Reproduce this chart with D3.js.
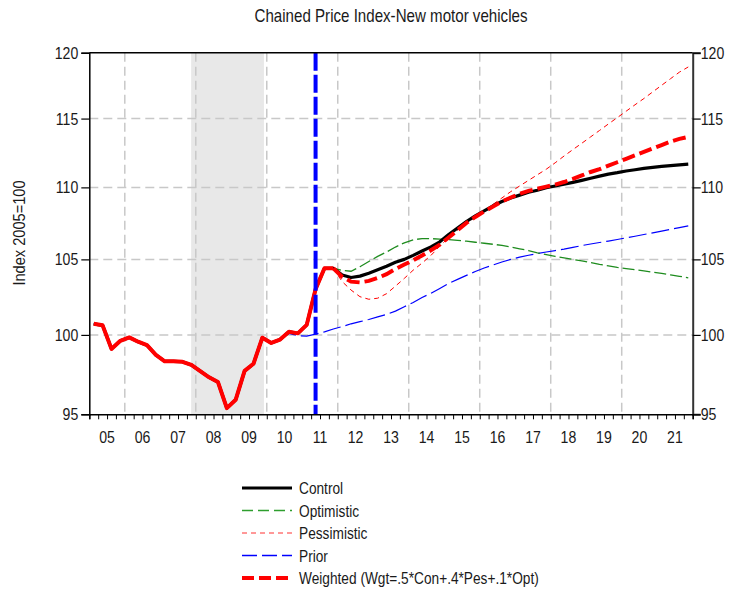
<!DOCTYPE html>
<html><head><meta charset="utf-8">
<script src="https://cdn.jsdelivr.net/npm/d3@7"></script>
<style>
body{margin:0;background:#fff;}
svg{display:block;font-family:"Liberation Sans Narrow","Arial Narrow","Liberation Sans",Arial,sans-serif;}
</style></head>
<body><svg id="c" width="731" height="594"></svg>
<script>
// ---------- data (quarterly, values) ----------
const histStart = 2005;            // 2005Q1
const history = [100.72,100.62,99.1,99.62, 99.84,99.56,99.34,98.72, 98.31,98.31,98.28,98.08,
  97.69,97.3,97.0,95.38, 95.9,97.7,98.15,99.82, 99.48,99.7,100.2,100.1, 100.65,103.0,104.4,104.4];
const fcStart = 2012;              // 2012Q1
const control = [103.95,103.78,103.87,104.07, 104.3,104.54,104.8,105.0, 105.27,105.57,105.85,106.2,
  106.7,107.15,107.6,108.0, 108.35,108.7,109.0,109.25, 109.45,109.65,109.8,109.97,
  110.1,110.22,110.36,110.5, 110.65,110.8,110.95,111.05, 111.17,111.26,111.36,111.43, 111.5,111.56,111.61,111.66];
const optimistic = [104.25,104.2,104.5,104.86, 105.2,105.5,105.84,106.13, 106.34,106.42,106.42,106.38,
  106.35,106.3,106.24,106.17, 106.1,106.03,105.95,105.85, 105.72,105.6,105.45,105.32,
  105.2,105.1,105.0,104.9, 104.78,104.66,104.56,104.46, 104.38,104.3,104.22,104.13, 104.05,103.95,103.86,103.76];
const pessimistic = [103.5,102.94,102.5,102.33, 102.4,102.7,103.2,103.72, 104.27,104.75,105.27,105.9,
  106.5,107.0,107.5,107.9, 108.35,108.8,109.25,109.7, 110.1,110.5,110.9,111.3,
  111.76,112.25,112.72,113.18, 113.65,114.12,114.6,115.07, 115.55,116.03,116.5,117.0, 117.5,118.0,118.5,118.9];
const weighted = [103.82,103.5,103.45,103.55, 103.75,104.0,104.35,104.65, 104.94,105.27,105.62,106.0,
  106.5,107.0,107.5,107.92, 108.3,108.65,109.0,109.28, 109.55,109.75,109.9,110.05,
  110.2,110.38,110.6,110.85, 111.1,111.3,111.55,111.8, 112.05,112.3,112.55,112.8, 113.05,113.3,113.5,113.65];
const priorStart = 2010.5;         // 2010Q3
const prior = [100.1,99.95, 99.92,100.05,100.2,100.38, 100.54,100.72,100.86,101.0, 101.17,101.33,101.55,101.84,
  102.12,102.45,102.72,103.05, 103.38,103.65,103.92,104.18, 104.42,104.62,104.82,105.0,
  105.15,105.28,105.4,105.5, 105.6,105.7,105.82,105.94, 106.05,106.15,106.25,106.36,
  106.47,106.58,106.7,106.82, 106.94,107.06,107.18,107.3];
const recession = [2007.87, 2009.92];
const forecastMarker = 2011.375;   // 2011Q2
const yTicks = [95,100,105,110,115,120];
const yearLabels = ["05","06","07","08","09","10","11","12","13","14","15","16","17","18","19","20","21"];
const gridYears = [2006,2008,2010,2012,2014,2016,2018,2020];
const legendItems = ["Control","Optimistic","Pessimistic","Prior","Weighted (Wgt=.5*Con+.4*Pes+.1*Opt)"];

// ---------- layout ----------
const L=89.3, R=692.7, T=52.7, B=414.3;
const svg=d3.select("#c");
const x=d3.scaleLinear().domain([2005,2022]).range([L,R]);
const y=d3.scaleLog().domain([95,120]).range([B,T]);
const toPts=(start,arr)=>arr.map((v,i)=>({t:start+(i+0.5)/4,v}));
const histPts=toPts(histStart,history);
const lastHist=histPts[histPts.length-1];
const line=d3.line().x(d=>x(d.t)).y(d=>y(d.v));
const SX=0.83;
function txt(g,tx,ty,s,size,anchor,sx,rot){
  const tr=`translate(${tx},${ty})`+(rot?` rotate(${rot})`:"")+` scale(${sx},1)`;
  return g.append("text").attr("transform",tr).attr("text-anchor",anchor||"start")
    .attr("font-size",size).attr("fill","#1a1a1a").text(s);
}

// recession shading
svg.append("rect").attr("x",x(recession[0])).attr("y",T).attr("width",x(recession[1])-x(recession[0])).attr("height",B-T).attr("fill","#e8e8e8");

// grid
const grid=svg.append("g").attr("stroke","#c8c8c8").attr("stroke-width",1.5).attr("stroke-dasharray","9,5");
grid.selectAll("line.h").data(yTicks.filter(d=>d>95&&d<120)).join("line")
  .attr("x1",L).attr("x2",R).attr("y1",d=>y(d)).attr("y2",d=>y(d));
grid.selectAll("line.v").data(gridYears).join("line")
  .attr("y1",T).attr("y2",B).attr("x1",d=>x(d)).attr("x2",d=>x(d));

// series
const priorPts=[histPts[21]].concat(toPts(priorStart,prior));
const fc=(arr)=>[lastHist].concat(toPts(fcStart,arr));
svg.append("path").attr("d",line(histPts.slice(0,22))).attr("fill","none").attr("stroke","#0000ff").attr("stroke-width",1.2);
svg.append("path").attr("d",line(priorPts)).attr("fill","none").attr("stroke","#0000ff").attr("stroke-width",1.2).attr("stroke-dasharray","18,5");
svg.append("path").attr("d",line(histPts.concat(fc(optimistic).slice(1)))).attr("fill","none").attr("stroke","#1e8c1e").attr("stroke-width",1.3).attr("stroke-dasharray","12,4");
svg.append("path").attr("d",line(fc(pessimistic))).attr("fill","none").attr("stroke","#ff0000").attr("stroke-width",1).attr("stroke-dasharray","5,4");
svg.append("path").attr("d",line(histPts.concat(fc(control).slice(1)))).attr("fill","none").attr("stroke","#000").attr("stroke-width",3.2).attr("stroke-linejoin","round");
svg.append("path").attr("d",line(histPts)).attr("fill","none").attr("stroke","#ff0000").attr("stroke-width",4).attr("stroke-linejoin","round");
svg.append("path").attr("d",line(fc(weighted))).attr("fill","none").attr("stroke","#ff0000").attr("stroke-width",4).attr("stroke-dasharray","13,5");

// forecast marker
svg.append("line").attr("x1",x(forecastMarker)).attr("x2",x(forecastMarker)).attr("y1",T).attr("y2",B)
  .attr("stroke","#0000ff").attr("stroke-width",4).attr("stroke-dasharray","18,4");

// frame
svg.append("line").attr("x1",L).attr("x2",R).attr("y1",T).attr("y2",T).attr("stroke","#000").attr("stroke-width",1.5);

// axes
const yl=svg.append("g").attr("transform",`translate(${L},0)`).call(d3.axisLeft(y).tickValues(yTicks).tickFormat("").tickSize(8));
const yr=svg.append("g").attr("transform",`translate(${R},0)`).call(d3.axisRight(y).tickValues(yTicks).tickFormat("").tickSize(8));
[yl,yr].forEach(g=>{g.select(".domain").attr("stroke","#000").attr("stroke-width",1.5);
  g.selectAll(".tick line").attr("stroke","#000").attr("stroke-width",1.2);});
yr.select(".domain").attr("stroke","#333").attr("stroke-width",2);
const labs=svg.append("g");
yTicks.forEach(v=>{
  txt(labs,L-11,y(v)+6,String(v),17,"end",SX);
  txt(labs,R+8,y(v)+6,String(v),17,"start",SX);
});

const quarterTicks=d3.range(2005,2022.01,0.25);
const xb=svg.append("g").attr("transform",`translate(0,${B})`).call(d3.axisBottom(x).tickValues(quarterTicks).tickSize(5).tickFormat(""));
xb.select(".domain").attr("stroke","#000").attr("stroke-width",1.5);
xb.selectAll(".tick line").attr("stroke","#000");
yearLabels.forEach((d,i)=>txt(labs,x(2005+i+0.5),443,d,17,"middle",SX));

// titles
txt(svg,391,22,"Chained Price Index-New motor vehicles",18,"middle",0.84);
txt(svg,25,233,"Index 2005=100",17,"middle",0.86,-90);

// legend
const legStyles=[
  {c:"#000",w:3,d:null},
  {c:"#2e9e2e",w:1.5,d:"11,5"},
  {c:"#ff3030",w:1,d:"5,4"},
  {c:"#0000ff",w:1.3,d:"15,5"},
  {c:"#ff0000",w:4,d:"12,5"}];
const leg=svg.append("g");
legendItems.forEach((name,i)=>{
  const yy=488+i*22.5;
  const st=legStyles[i];
  leg.append("line").attr("x1",242).attr("x2",292).attr("y1",yy).attr("y2",yy)
    .attr("stroke",st.c).attr("stroke-width",st.w).attr("stroke-dasharray",st.d);
  txt(leg,299,yy+6,name,16.5,"start",0.83);
});
</script></body></html>
